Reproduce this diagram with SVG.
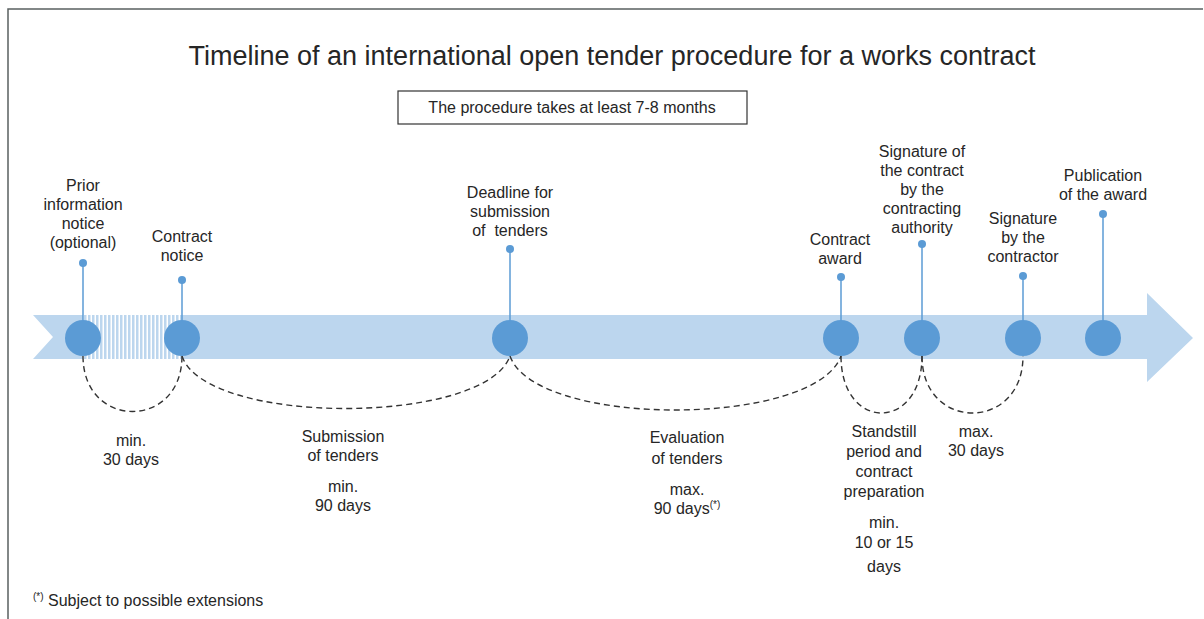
<svg xmlns="http://www.w3.org/2000/svg" width="1204" height="619" viewBox="0 0 1204 619">
<style>
  text { font-family: "Liberation Sans", Arial, sans-serif; fill: #262626; }
  .lbl { font-size: 16px; text-anchor: middle; }
  .title { font-size: 27px; text-anchor: middle; }
  .box { font-size: 16px; text-anchor: middle; }
  .foot { font-size: 16px; }
  .stem { stroke: #5b9bd5; stroke-width: 1.5; }
  .dot { fill: #5b9bd5; }
  .node { fill: #5b9bd5; }
  .arc { fill: none; stroke: #333; stroke-width: 1.4; stroke-dasharray: 6 4; }
</style>
<defs>
  <pattern id="hatch" x="0" y="0" width="4" height="10" patternUnits="userSpaceOnUse">
    <rect x="0" y="0" width="4" height="10" fill="#bcd6ee"/>
    <rect x="2.5" y="0" width="1.5" height="10" fill="#ffffff"/>
  </pattern>
</defs>
<rect width="1204" height="619" fill="#ffffff"/>
<path d="M8 619 V9 H1203" fill="none" stroke="#5a6060" stroke-width="1.5"/>

<text class="title" x="612" y="65">Timeline of an international open tender procedure for a works contract</text>
<rect x="398" y="91" width="349" height="33" fill="#fff" stroke="#333" stroke-width="1.2"/>
<text class="box" x="572" y="113">The procedure takes at least 7-8 months</text>

<g id="timeline">
  <path d="M33 315 H1147 V293 L1193 338 L1147 382 V359 H33 L53 337 Z" fill="#bcd6ee"/>
  <rect x="83" y="315" width="99" height="44" fill="url(#hatch)"/>
</g>

<g id="connectors">
  <path class="arc" d="M83 356 C83 430 182 430 182 356"/>
  <path class="arc" d="M182 356 C205 426 485 426 510 356"/>
  <path class="arc" d="M510 356 C535 428 815 428 841 356"/>
  <path class="arc" d="M841 356 C841 432 922 432 922 356"/>
  <path class="arc" d="M922 356 C922 432 1023 432 1023 356"/>
</g>

<g id="n1">
  <line class="stem" x1="83" y1="263" x2="83" y2="338"/>
  <circle class="dot" cx="83" cy="263" r="4"/>
  <circle class="node" cx="83" cy="338" r="18"/>
  <text class="lbl" x="83" y="191">Prior</text>
  <text class="lbl" x="83" y="210">information</text>
  <text class="lbl" x="83" y="229">notice</text>
  <text class="lbl" x="83" y="248">(optional)</text>
</g>
<g id="n2">
  <line class="stem" x1="182" y1="280" x2="182" y2="338"/>
  <circle class="dot" cx="182" cy="280" r="4"/>
  <circle class="node" cx="182" cy="338" r="18"/>
  <text class="lbl" x="182" y="242">Contract</text>
  <text class="lbl" x="182" y="261">notice</text>
</g>
<g id="n3">
  <line class="stem" x1="510" y1="249" x2="510" y2="338"/>
  <circle class="dot" cx="510" cy="249" r="4"/>
  <circle class="node" cx="510" cy="338" r="18"/>
  <text class="lbl" x="510" y="198">Deadline for</text>
  <text class="lbl" x="510" y="217">submission</text>
  <text class="lbl" x="510" y="236" xml:space="preserve">of  tenders</text>
</g>
<g id="n4">
  <line class="stem" x1="841" y1="277" x2="841" y2="338"/>
  <circle class="dot" cx="841" cy="277" r="4"/>
  <circle class="node" cx="841" cy="338" r="18"/>
  <text class="lbl" x="840" y="245">Contract</text>
  <text class="lbl" x="840" y="264">award</text>
</g>
<g id="n5">
  <line class="stem" x1="922" y1="244" x2="922" y2="338"/>
  <circle class="dot" cx="922" cy="244" r="4"/>
  <circle class="node" cx="922" cy="338" r="18"/>
  <text class="lbl" x="922" y="157">Signature of</text>
  <text class="lbl" x="922" y="176">the contract</text>
  <text class="lbl" x="922" y="195">by the</text>
  <text class="lbl" x="922" y="214">contracting</text>
  <text class="lbl" x="922" y="233">authority</text>
</g>
<g id="n6">
  <line class="stem" x1="1023" y1="276" x2="1023" y2="338"/>
  <circle class="dot" cx="1023" cy="276" r="4"/>
  <circle class="node" cx="1023" cy="338" r="18"/>
  <text class="lbl" x="1023" y="224">Signature</text>
  <text class="lbl" x="1023" y="243">by the</text>
  <text class="lbl" x="1023" y="262">contractor</text>
</g>
<g id="n7">
  <line class="stem" x1="1103" y1="214" x2="1103" y2="338"/>
  <circle class="dot" cx="1103" cy="214" r="4"/>
  <circle class="node" cx="1103" cy="338" r="18"/>
  <text class="lbl" x="1103" y="181">Publication</text>
  <text class="lbl" x="1103" y="200">of the award</text>
</g>

<g id="durations">
  <text class="lbl" x="131" y="446">min.</text>
  <text class="lbl" x="131" y="465">30 days</text>
  <text class="lbl" x="343" y="442">Submission</text>
  <text class="lbl" x="343" y="461">of tenders</text>
  <text class="lbl" x="343" y="492">min.</text>
  <text class="lbl" x="343" y="511">90 days</text>
  <text class="lbl" x="687" y="443">Evaluation</text>
  <text class="lbl" x="687" y="464">of tenders</text>
  <text class="lbl" x="687" y="495">max.</text>
  <text class="lbl" x="687" y="514">90 days<tspan font-size="10" dy="-6">(*)</tspan></text>
  <text class="lbl" x="884" y="437">Standstill</text>
  <text class="lbl" x="884" y="457">period and</text>
  <text class="lbl" x="884" y="477">contract</text>
  <text class="lbl" x="884" y="497">preparation</text>
  <text class="lbl" x="884" y="528">min.</text>
  <text class="lbl" x="884" y="548">10 or 15</text>
  <text class="lbl" x="884" y="572">days</text>
  <text class="lbl" x="976" y="437">max.</text>
  <text class="lbl" x="976" y="456">30 days</text>
</g>

<text class="foot" x="33" y="606"><tspan font-size="10" dy="-6">(*)</tspan><tspan dy="6"> Subject to possible extensions</tspan></text>
</svg>
